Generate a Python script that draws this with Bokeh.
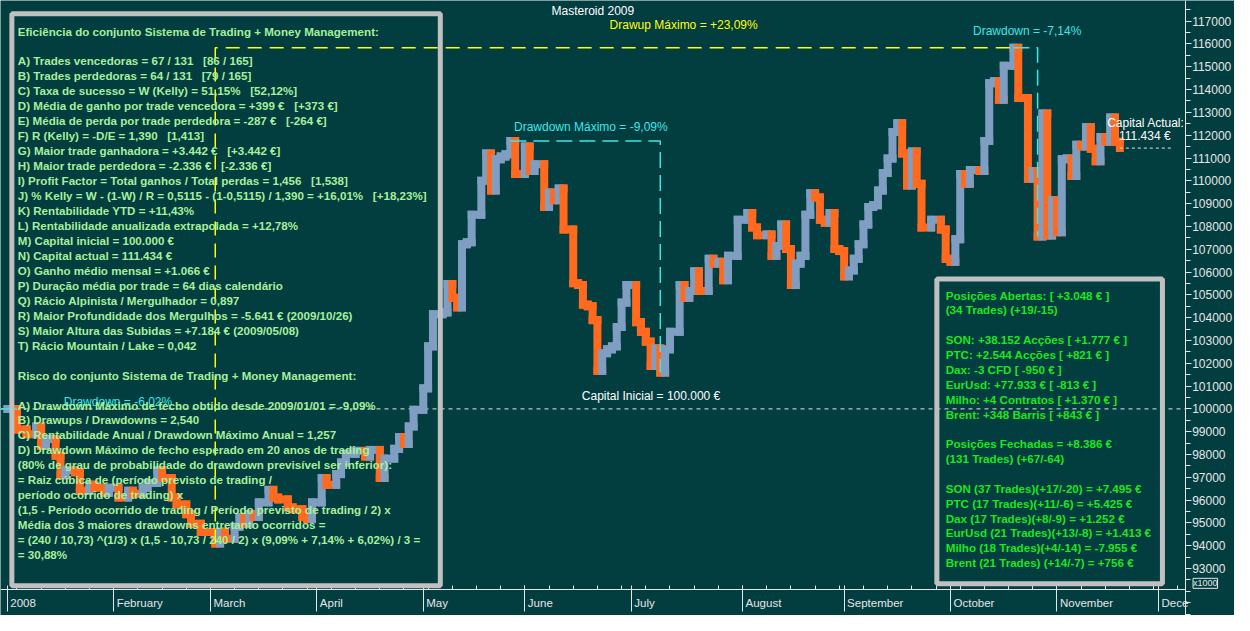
import numpy as np
from bokeh.plotting import figure
from bokeh.models import (Range1d, FixedTicker, BasicTickFormatter, BoxAnnotation, Label)
from bokeh.core.properties import value
from bokeh.embed import file_html
from bokeh.resources import INLINE

# ---------------- data ----------------
days = [0, 2, 4, 6, 7, 8, 10, 11, 12, 14, 15, 17, 18, 20, 21, 23, 25, 26, 28, 29,
        31, 32, 34, 35, 37, 38, 40, 43, 44, 45, 47, 48, 49, 50, 51, 52, 54, 55, 56, 58,
        59, 61, 62, 63, 65, 66, 68, 69, 70, 72, 74, 75, 77, 78, 80, 81, 82, 83, 84, 86,
        87, 88, 90, 91, 92, 93, 94, 95, 96, 98, 99, 100, 101, 102, 103, 104, 105, 107, 108, 109,
        111, 112, 113, 114, 115, 117, 118, 119, 120, 121, 122, 123, 124, 125, 126, 127, 128, 130, 131, 132,
        133, 134, 135, 136, 137, 139, 140, 141, 142, 143, 145, 146, 147, 148, 149, 151, 153, 154, 155, 157,
        158, 159, 160, 161, 162, 163, 164, 165, 166, 167, 168, 169, 170, 171, 172, 173, 174, 175, 176, 177,
        178, 179, 180, 181, 182, 183, 184, 185, 186, 187, 188, 189, 191, 193, 194, 195, 196, 197, 198, 199,
        201, 202, 203, 204, 205, 206, 208, 209, 211, 212, 213, 214, 215, 216, 217, 218, 219, 220, 221, 222,
        223, 224, 225, 226, 227, 228, 229, 230]
equity = [100000, 99100, 98890, 99230, 98380, 98680, 97950, 97090, 97310, 97220,
          96410, 96670, 96540, 96320, 96540, 96110, 96410, 96280, 96540, 96750,
          97310, 96970, 96110, 95810, 95380, 94960, 94600, 94100, 94610, 94300,
          94830, 95260, 94960, 95380, 95260, 95900, 96450, 96110, 96030, 95680,
          95600, 95260, 95170, 95900, 96970, 96670, 97140, 97650, 98030, 98160,
          97910, 98200, 96970, 97820, 98250, 98760, 98460, 99230, 99960, 100900,
          102740, 104150, 104230, 105470, 104870, 104450, 107220, 107310, 108510, 110000,
          111200, 109570, 110940, 111070, 111160, 111750, 110300, 111500, 110430, 110730,
          108850, 109490, 109150, 109660, 107860, 105510, 105430, 104570, 104500, 103890,
          101670, 102440, 102610, 102740, 103590, 104660, 105430, 103800, 103380, 102950,
          101880, 102650, 101590, 102610, 103380, 105430, 104870, 105170, 106030, 105170,
          106580, 106370, 106450, 105640, 106710, 108290, 108590, 107950, 107610, 107650,
          106710, 107140, 108080, 107010, 105430, 106370, 106710, 108510, 109450, 109270,
          108290, 108160, 108590, 107010, 106920, 105810, 106070, 106580, 107220, 108080,
          108850, 108930, 109570, 110340, 110980, 112140, 112520, 111200, 109790, 111280,
          109870, 107950, 108290, 107860, 106580, 106450, 107440, 110300, 109870, 110470,
          110430, 111750, 114280, 114360, 113550, 115040, 115830, 113630, 110090, 110430,
          107560, 112950, 107600, 109150, 107740, 110940, 110980, 110210, 111580, 111500,
          112350, 111410, 110860, 111920, 111710, 112780, 111710, 111434]

month_names = ["2008", "February", "March", "April", "May", "June", "July",
               "August", "September", "October", "November", "Dece"]
month_days = [0, 22, 42, 64, 86, 107, 129, 152, 173, 195, 217, 238]
week_days = list(range(2, 244, 5))
y_ticks = list(range(93000, 118000, 1000))
y_minor = list(range(91000, 118500, 500))

NB = "\u00a0\u00a0"  # keeps the wide gaps of the original text
left_lines = [
    "Eficiência do conjunto Sistema de Trading + Money Management:",
    "",
    "A) Trades vencedoras = 67 / 131 " + NB + "[86 / 165]",
    "B) Trades perdedoras = 64 / 131 " + NB + "[79 / 165]",
    "C) Taxa de sucesso = W (Kelly) = 51,15% " + NB + "[52,12%]",
    "D) Média de ganho por trade vencedora = +399 € " + NB + "[+373 €]",
    "E) Média de perda por trade perdedora = -287 € " + NB + "[-264 €]",
    "F) R (Kelly) = -D/E = 1,390 " + NB + "[1,413]",
    "G) Maior trade ganhadora = +3.442 € " + NB + "[+3.442 €]",
    "H) Maior trade perdedora = -2.336 € " + NB + "[-2.336 €]",
    "I) Profit Factor = Total ganhos / Total perdas = 1,456 " + NB + "[1,538]",
    "J) % Kelly = W - (1-W) / R = 0,5115 - (1-0,5115) / 1,390 = +16,01% " + NB + "[+18,23%]",
    "K) Rentabilidade YTD = +11,43%",
    "L) Rentabilidade anualizada extrapolada = +12,78%",
    "M) Capital inicial = 100.000 €",
    "N) Capital actual = 111.434 €",
    "O) Ganho médio mensal = +1.066 €",
    "P) Duração média por trade = 64 dias calendário",
    "Q) Rácio Alpinista / Mergulhador = 0,897",
    "R) Maior Profundidade dos Mergulhos = -5.641 € (2009/10/26)",
    "S) Maior Altura das Subidas = +7.184 € (2009/05/08)",
    "T) Rácio Mountain / Lake = 0,042",
    "",
    "Risco do conjunto Sistema de Trading + Money Management:",
    "",
    "A) Drawdown Máximo de fecho obtido desde 2009/01/01 = -9,09%",
    "B) Drawups / Drawdowns = 2,540",
    "C) Rentabilidade Anual / Drawdown Máximo Anual = 1,257",
    "D) Drawdown Máximo de fecho esperado em 20 anos de trading",
    "(80% de grau de probabilidade do drawdown previsível ser inferior):",
    "= Raiz cúbica de (período previsto de trading /",
    "período ocorrido de trading) x",
    "(1,5 - Período ocorrido de trading / Período previsto de trading / 2) x",
    "Média dos 3 maiores drawdowns entretanto ocorridos =",
    "= (240 / 10,73) ^(1/3) x (1,5 - 10,73 / 240 / 2) x (9,09% + 7,14% + 6,02%) / 3 =",
    "= 30,88%",
]

right_lines = [
    "Posições Abertas: [ +3.048 € ]",
    "(34 Trades) (+19/-15)",
    "",
    "SON: +38.152 Acções [ +1.777 € ]",
    "PTC: +2.544 Acções [ +821 € ]",
    "Dax: -3 CFD [ -950 € ]",
    "EurUsd: +77.933 € [ -813 € ]",
    "Milho: +4 Contratos [ +1.370 € ]",
    "Brent: +348 Barris [ +843 € ]",
    "",
    "Posições Fechadas = +8.386 €",
    "(131 Trades) (+67/-64)",
    "",
    "SON (37 Trades)(+17/-20) = +7.495 €",
    "PTC (17 Trades)(+11/-6) = +5.425 €",
    "Dax (17 Trades)(+8/-9) = +1.252 €",
    "EurUsd (21 Trades)(+13/-8) = +1.413 €",
    "Milho (18 Trades)(+4/-14) = -7.955 €",
    "Brent (21 Trades) (+14/-7) = +756 €",
]

# ---------------- style ----------------
BG = "#023D40"
BLUE = "#7F9EC2"
ORANGE = "#FF6A1E"
AXC = "#E6E6E6"
YEL = "#FFFF00"
CYAN = "#3FE6E6"
LGREEN = "#A6F09A"
BGREEN = "#1EE61E"
BOXC = "#C0C0C0"
FONT = value("Liberation Sans")

# whole canvas is the frame; reference pixel grid is 1250 x 631
W, H = 1234, 615
REF_W, REF_H = 1250.0, 631.0
X0 = -1.4
X1 = X0 + 1250.0 / 1200.0 * 244.9
Y1 = 117906.0
Y0 = Y1 - 631.0 * (25812.0 / 604.0)


def dx(px):
    return X0 + px / REF_W * (X1 - X0)


def dy(py):
    return Y1 - py / REF_H * (Y1 - Y0)


p = figure(frame_width=W, frame_height=H, x_range=Range1d(X0, X1), y_range=Range1d(Y0, Y1),
           output_backend="svg", toolbar_location=None, y_axis_location="right",
           background_fill_color=BG, border_fill_color=BG, outline_line_color=None,
           min_border=0)
p.grid.visible = False

X_AXIS = dx(1200)
Y_AXIS = dy(604)

# y axis (right side, fixed at the edge of the chart area)
ya = p.yaxis[0]
ya.fixed_location = X_AXIS
ya.ticker = FixedTicker(ticks=y_ticks, minor_ticks=y_minor)
ya.formatter = BasicTickFormatter(use_scientific=False)
ya.axis_line_color = AXC
ya.major_tick_line_color = AXC
ya.minor_tick_line_color = AXC
ya.major_tick_in = 0
ya.major_tick_out = 6
ya.minor_tick_in = 0
ya.minor_tick_out = 5
ya.major_label_standoff = 1
ya.major_label_text_color = AXC
ya.major_label_text_font = "Liberation Sans"
ya.major_label_text_font_size = "12px"

# x axis (fixed at the bottom of the chart area)
xa = p.xaxis[0]
xa.fixed_location = Y_AXIS
xa.bounds = (X0, X_AXIS)
xa.ticker = FixedTicker(ticks=month_days, minor_ticks=week_days)
xa.major_label_overrides = {d: "" for d in month_days}
xa.axis_line_color = AXC
xa.major_tick_line_color = AXC
xa.minor_tick_line_color = AXC
xa.major_tick_in = 4
xa.major_tick_out = 22
xa.minor_tick_in = 4
xa.minor_tick_out = 0
xa.major_label_standoff = 0
xa.major_label_text_font_size = "1px"

# ---------------- equity curve ----------------
d = np.array(days, dtype=float)
v = np.array(equity, dtype=float)
up = v[1:] >= v[:-1]
vcol = [BLUE if u else ORANGE for u in up]
hcol = [BLUE] + vcol[:-1]

# dashed line at initial capital
p.line([X0, X_AXIS], [equity[0], equity[0]], line_color=AXC, line_dash="4 4", line_width=1)

p.segment(x0=d[:-1], y0=v[:-1], x1=d[1:], y1=v[:-1], line_color=hcol,
          line_width=8, line_cap="square")
p.segment(x0=d[1:], y0=v[:-1], x1=d[1:], y1=v[1:], line_color=vcol,
          line_width=8, line_cap="square")

# drawup / drawdowns
imax = int(np.argmax(v))
imin = int(np.argmin(v))
runmax = np.maximum.accumulate(v)
it = int(np.argmin(v / runmax - 1))
ip = int(np.argmax(v[:it + 1]))
it2 = imax + int(np.argmin(v[imax:]))

p.line([d[imin], d[imin], d[imax]], [v[imin], v[imax], v[imax]],
       line_color=YEL, line_dash="14 8", line_width=1.5)
p.line([d[ip], d[it], d[it]], [v[ip], v[ip], v[it]],
       line_color=CYAN, line_dash="16 7", line_width=1.5)
p.line([d[imax], d[it2], d[it2]], [v[imax], v[imax], v[it2]],
       line_color=CYAN, line_dash="16 7", line_width=1.5)
p.line([X0, d[1]], [v[0], v[0]], line_color=CYAN, line_width=1.5)
p.line([d[-1], d[-1] + 11], [v[-1], v[-1]], line_color=AXC, line_dash="3 3", line_width=1)


def txt(px, py, s, color, align="center", size="12px"):
    p.text(x=[dx(px)], y=[dy(py)], text=[s], text_color=color, text_font=FONT,
           text_font_size=size, text_align=align, text_baseline="middle")


txt(600, 11, "Masteroid 2009", "#FFFFFF")
txt(692, 25, "Drawup Máximo = +23,09%", YEL)
txt(1040, 31, "Drawdown = -7,14%", CYAN)
txt(598, 130, "Drawdown Máximo = -9,09%", CYAN)
txt(119, 412, "Drawdown = -6,02%", CYAN)
txt(659, 406, "Capital Inicial = 100.000 €", "#FFFFFF")
txt(1121, 126, "Capital Actual:", "#FFFFFF", align="left")
txt(1133, 139, "111.434 €", "#FFFFFF", align="left")

# text boxes
p.add_layout(BoxAnnotation(left=dx(11.5), right=dx(445.5), top=dy(13.5), bottom=dy(600.5),
                           fill_alpha=0, line_color=BOXC, line_alpha=1, line_width=5))
p.add_layout(BoxAnnotation(left=dx(948.5), right=dx(1177), top=dy(285.7), bottom=dy(598.5),
                           fill_alpha=0, line_color=BOXC, line_alpha=1, line_width=5))

lx, ly, lt = [], [], []
for i, s in enumerate(left_lines):
    if s:
        lx.append(dx(17.5)); ly.append(dy(62 + (i - 2) * 15.35)); lt.append(s)
p.text(x=lx, y=ly, text=lt, text_color=LGREEN, text_font=FONT, text_font_style="bold",
       text_font_size="11.6px", text_align="left", text_baseline="middle")

rx, ry, rt = [], [], []
for i, s in enumerate(right_lines):
    if s:
        rx.append(dx(957.5)); ry.append(dy(302.3 + i * 15.25)); rt.append(s)
p.text(x=rx, y=ry, text=rt, text_color=BGREEN, text_font=FONT, text_font_style="bold",
       text_font_size="11.6px", text_align="left", text_baseline="middle")

# month names, left-aligned just after each month separator
p.text(x=month_days, y=[dy(618)] * len(month_days), text=month_names, x_offset=3,
       text_color=AXC, text_font=FONT, text_font_size="11.5px",
       text_align="left", text_baseline="middle")

p.add_layout(Label(x=dx(1208), y=dy(598), text="x1000", text_color=AXC,
                   text_font="Liberation Sans", text_font_size="9px",
                   text_baseline="middle", border_line_color=AXC, border_line_alpha=1))

open("out.html", "w").write(file_html(p, INLINE))
